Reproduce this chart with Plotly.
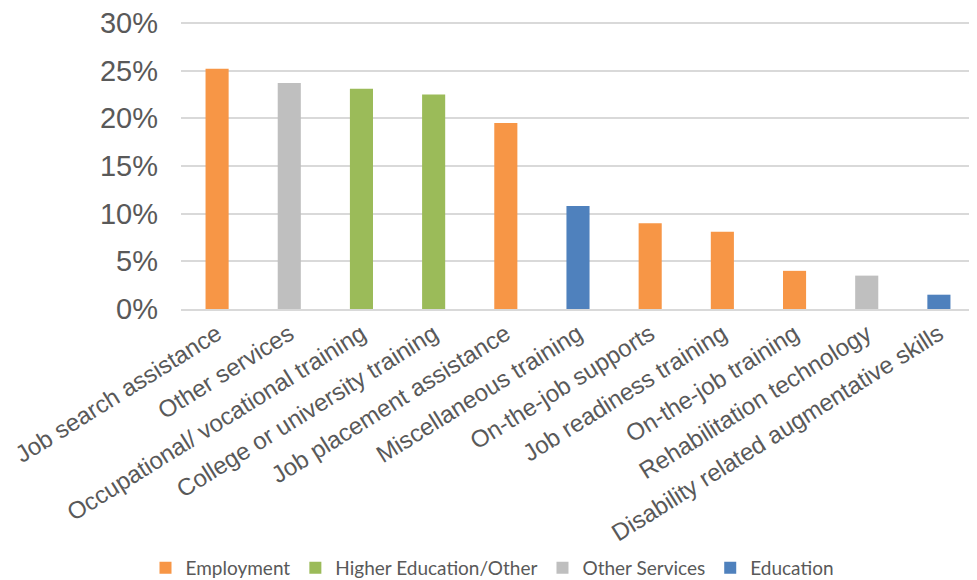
import plotly.graph_objects as go

categories = ["Job search assistance", "Other services", "Occupational/ vocational training",
              "College or university training", "Job placement assistance", "Miscellaneous training",
              "On-the-job supports", "Job readiness training", "On-the-job training",
              "Rehabilitation technology", "Disability related augmentative skills"]
values = [0.252, 0.237, 0.231, 0.225, 0.195, 0.108, 0.090, 0.081, 0.040, 0.035, 0.015]
groups = ["Employment", "Other Services", "Higher Education/Other", "Higher Education/Other",
          "Employment", "Education", "Employment", "Employment", "Employment",
          "Other Services", "Education"]
legend_order = ["Employment", "Higher Education/Other", "Other Services", "Education"]
colors = {"Employment": "#F79646", "Higher Education/Other": "#9BBB59",
          "Other Services": "#BFBFBF", "Education": "#4F81BD"}
y_ticks = [0, 0.05, 0.10, 0.15, 0.20, 0.25, 0.30]
y_labels = ["0%", "5%", "10%", "15%", "20%", "25%", "30%"]

fig = go.Figure()
for g in legend_order:
    xs = [c for c, gg in zip(categories, groups) if gg == g]
    ys = [v for v, gg in zip(values, groups) if gg == g]
    fig.add_trace(go.Bar(x=xs, y=ys, name=g, marker=dict(color=colors[g], line=dict(width=0)),
                         width=0.32))

fig.update_layout(
    width=969, height=572,
    barmode="overlay",
    plot_bgcolor="white", paper_bgcolor="white",
    margin=dict(l=173, r=2, t=13, b=271),
    font=dict(family="Liberation Sans, Arial, sans-serif", color="#595959"),
    legend=dict(orientation="h", x=0.5, xanchor="center", xref="container",
                y=0.021, yanchor="middle", yref="container",
                font=dict(family="Lato, Carlito, sans-serif", size=19, color="#595959"),
                itemwidth=30, traceorder="normal"),
    xaxis=dict(categoryorder="array", categoryarray=categories, tickangle=-32,
               tickfont=dict(size=24, color="#595959"), showgrid=False, automargin=False,
               showline=True, linecolor="#D9D9D9", linewidth=1.5, range=[-0.5, 10.5],
               ticklabeloverflow="allow"),
    yaxis=dict(range=[0, 0.302], tickvals=y_ticks, ticktext=y_labels, automargin=False,
               tickfont=dict(size=29, color="#595959"), gridcolor="#D9D9D9", gridwidth=1.5,
               zeroline=False, showline=False, ticklabelstandoff=22,
               ticklabeloverflow="allow"),
)
fig.write_html("out.html")
